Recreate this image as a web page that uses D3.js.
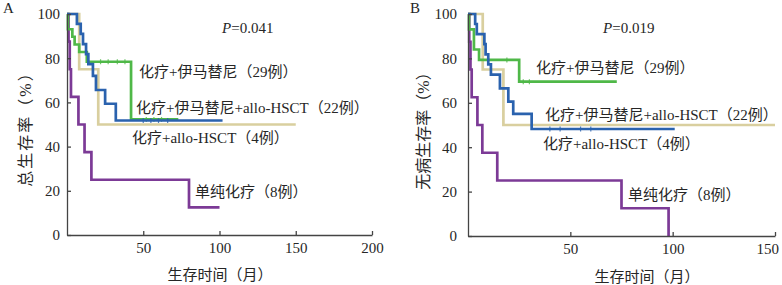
<!DOCTYPE html>
<html><head><meta charset="utf-8">
<script src="https://cdn.jsdelivr.net/npm/d3@7"></script>
<style>
body{margin:0;background:#fff;}
svg{display:block;}
text{font-family:"Liberation Serif","Noto Sans CJK SC",serif;fill:#262626;}
</style></head><body>
<svg id="chart" width="782" height="285"></svg>
<script>
// ---------- data ----------
const groupNames = ["化疗+伊马替尼（29例）","化疗+伊马替尼+allo-HSCT（22例）","化疗+allo-HSCT（4例）","单纯化疗（8例）"];
const xTicksA = [50,100,150,200];
const xTicksB = [50,100,150];
const yTicks = [0,20,40,60,80,100];

// Panel A: overall survival (time in months, survival %)
const A_ima_t   = [0,0.6,3.5,5,8,13,42,73];
const A_ima_s   = [100,93.1,89.7,86.2,82.8,78.4,52.3,52.3];
const A_imaH_t  = [0,6.5,9,10.5,12.5,14,17,19,25,32,102];
const A_imaH_s  = [100,95.5,91,86.4,81.8,77.3,72,65.6,59.4,51.8,51.8];
const A_hsct_t  = [0,8,20.5,150];
const A_hsct_s  = [100,75,50,50];
const A_chemo_t = [0,1,1.8,2.6,7.5,11.5,16,80,100];
const A_chemo_s = [100,87.5,75,62.5,50,37.5,25,12.5,12.5];
const A_ima_cens  = [22,27,33,38,52,57,62];
const A_imaH_cens = [50,55,60,66];

// Panel B: disease-free survival
const B_ima_t   = [0,0.5,2.9,5.4,25,72.7];
const B_ima_s   = [100,93.1,84,79.3,69.5,69.5];
const B_imaH_t  = [0,3.5,4.3,8,8.6,9.9,11.2,15.6,19.7,22.1,31.1,101];
const B_imaH_s  = [100,95.5,90.9,86.4,81.8,77.3,72.7,66.5,60.5,55,48.2,48.2];
const B_hsct_t  = [0,7.2,17.3,150];
const B_hsct_s  = [100,75,50,50];
const B_chemo_t = [0,0.6,1.2,1.8,4.6,7,14.3,75,98];
const B_chemo_s = [100,87.5,75,62.5,50,37.5,25,12.5,0];
const B_ima_cens  = [19,27,30];
const B_imaH_cens = [40,45,55,60];

const colors = ["#4fb848","#2a62ae","#d9cf9f","#7c3a96"];

// ---------- drawing ----------
const svg = d3.select("#chart");
const W = 782;

function panel(cfg){
  const x = d3.scaleLinear().domain([0,cfg.xmax]).range(cfg.xr);
  const y = d3.scaleLinear().domain([0,100]).range(cfg.yr);
  const g = svg.append("g");

  const line = d3.line().x(d=>x(d[0])).y(d=>y(d[1])).curve(d3.curveStepAfter);
  const order = [2,3,0,1];
  order.forEach(i=>{
    const c = cfg.curves[i];
    const pts = c.t.map((t,k)=>[t,c.s[k]]);
    g.append("path").attr("d",line(pts)).attr("fill","none")
      .attr("stroke",colors[i]).attr("stroke-width",2.7).attr("stroke-linejoin","miter");
    if(c.cens){
      c.cens.forEach(ct=>{
        let v = c.s[0];
        c.t.forEach((t,k)=>{ if(t<=ct) v=c.s[k]; });
        g.append("line").attr("x1",x(ct)).attr("x2",x(ct))
          .attr("y1",y(v)-2.5).attr("y2",y(v)+2.5)
          .attr("stroke",colors[i]).attr("stroke-width",1.2).attr("opacity",0.8);
      });
    }
  });

  const xa = g.append("g").attr("transform",`translate(0,${cfg.yr[0]})`)
    .call(d3.axisBottom(x).tickValues(cfg.xticks).tickSizeInner(-4).tickSizeOuter(0).tickPadding(7));
  const ya = g.append("g").attr("transform",`translate(${cfg.xr[0]},0)`)
    .call(d3.axisLeft(y).tickValues(yTicks).tickSizeInner(-4).tickSizeOuter(0).tickPadding(cfg.ypad));
  [xa,ya].forEach(a=>{
    a.selectAll("path,line").attr("stroke","#444").attr("stroke-width",1.3);
    a.selectAll("text").attr("font-size",15).attr("fill","#262626")
      .attr("font-family","Liberation Serif, serif");
  });
  // keep the right-most tick label inside the page
  xa.selectAll(".tick text").each(function(){
    const bb = this.getBBox();
    const tr = this.parentNode.getAttribute("transform");
    const tx = +tr.match(/translate\(([-\d.]+)/)[1];
    const over = tx + bb.x + bb.width - (W - 3);
    if(over > 0) d3.select(this).attr("x", -over);
  });

  cfg.labels.forEach((p,i)=>{
    g.append("text").attr("x",p[0]).attr("y",p[1]).attr("dy","0.35em")
      .attr("font-size",15).text(groupNames[i]);
  });
  const pt = g.append("text").attr("x",cfg.p[0]).attr("y",cfg.p[1]).attr("dy","0.35em").attr("font-size",15);
  pt.append("tspan").attr("font-style","italic").text("P");
  pt.append("tspan").text(cfg.pval);

  g.append("text").attr("x",cfg.xt[0]).attr("y",cfg.xt[1]).attr("text-anchor","middle")
    .attr("dy","0.35em").attr("font-size",15).text("生存时间（月）");
  g.append("text").attr("transform",`translate(${cfg.yt[0]},${cfg.yt[1]}) rotate(-90)`)
    .attr("text-anchor","middle").attr("dy","0.35em").attr("font-size",16)
    .attr("letter-spacing",cfg.yls).text(cfg.ytitle);
  g.append("text").attr("x",cfg.letter[0]).attr("y",cfg.letter[1]).attr("font-size",15).text(cfg.name);
}

panel({
  name:"A", xmax:200, xr:[67,372], yr:[235,14], xticks:xTicksA, ypad:7,
  curves:[
    {t:A_ima_t,s:A_ima_s,cens:A_ima_cens},
    {t:A_imaH_t,s:A_imaH_s,cens:A_imaH_cens},
    {t:A_hsct_t,s:A_hsct_s},
    {t:A_chemo_t,s:A_chemo_s}
  ],
  labels:[[139,72],[136,108],[132,138],[195,192]],
  p:[222,28], pval:"=0.041",
  xt:[220,275], yt:[25,125], ytitle:"总生存率（%）", yls:2,
  letter:[3,13]
});
panel({
  name:"B", xmax:150, xr:[468,775], yr:[236,14], xticks:xTicksB, ypad:11,
  curves:[
    {t:B_ima_t,s:B_ima_s,cens:B_ima_cens},
    {t:B_imaH_t,s:B_imaH_s,cens:B_imaH_cens},
    {t:B_hsct_t,s:B_hsct_s},
    {t:B_chemo_t,s:B_chemo_s}
  ],
  labels:[[536,68],[545,115],[543,144],[628,195]],
  p:[603,28], pval:"=0.019",
  xt:[647,277], yt:[423,127], ytitle:"无病生存率（%）", yls:0,
  letter:[410,13]
});
</script>
</body></html>
